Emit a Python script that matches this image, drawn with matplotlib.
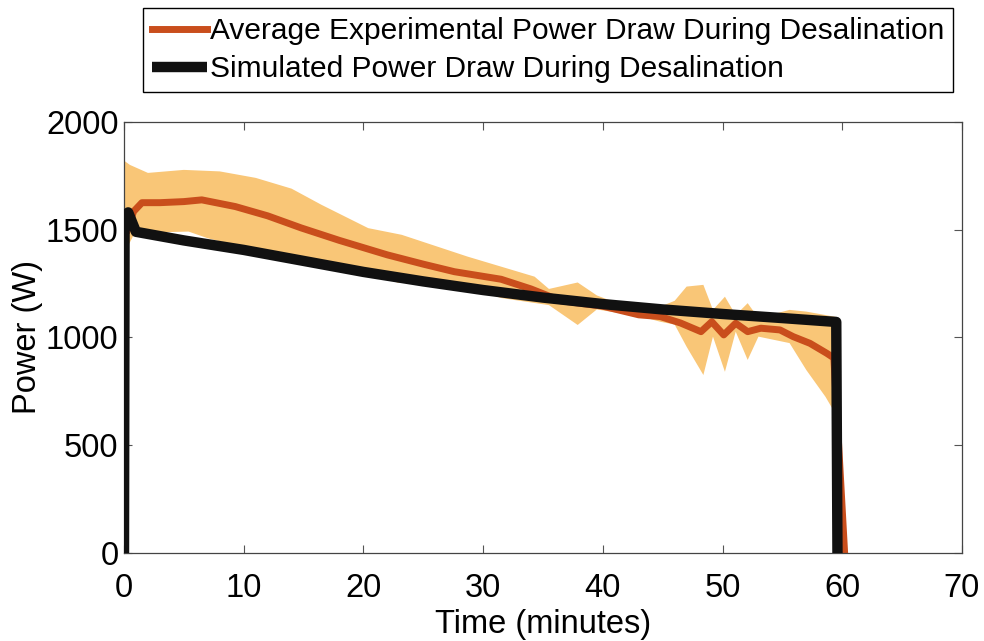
"""Power draw during desalination: experimental mean with spread vs simulation."""

import numpy as np
import matplotlib
matplotlib.use("Agg")
import matplotlib.pyplot as plt

plt.rcParams["font.family"] = ["Liberation Sans", "DejaVu Sans"]

# Average experimental power draw (minutes, W)
exp_time = [0.3, 0.8, 1.5, 3, 5, 6.5, 9.3, 12, 14.8, 18, 22, 25, 27.6, 31.5, 34,
            36.5, 40, 43, 44.8, 46.5, 48.2, 49.1, 50.1, 51.1, 52.1, 53.2, 54.8,
            55.9, 57.3, 58.7, 59.3, 60.2]
exp_power = [1500, 1584, 1625, 1625, 1630, 1638, 1607, 1564, 1508, 1450, 1383, 1340,
             1305, 1270, 1225, 1170, 1145, 1105, 1097, 1067, 1027, 1073, 1012, 1066,
             1027, 1043, 1035, 1004, 973, 927, 905, 0]

# Upper edge of the experimental spread
upper_time = [0, 0.5, 2, 5, 8, 11, 14, 16.5, 20.4, 23.2, 28.7, 34.3, 35.5, 37.9,
              39.5, 40.7, 44.8, 46, 47, 48.4, 49.2, 50.2, 51.1, 52.1, 53, 55.6,
              57, 58.6, 59.5, 60.2]
upper_power = [1820, 1800, 1763, 1777, 1770, 1740, 1690, 1615, 1507, 1476, 1375,
               1282, 1225, 1255, 1195, 1170, 1143, 1170, 1236, 1244, 1128, 1189,
               1104, 1159, 1090, 1128, 1120, 1104, 1095, 0]

# Lower edge of the experimental spread
lower_time = [0, 0.3, 0.9, 5.4, 7, 10.9, 16.5, 21, 22.9, 24, 27.6, 31.5, 35.5,
              37.9, 39.5, 43.2, 44.8, 46, 47, 48.4, 49.2, 50.2, 51.1, 52.1, 53,
              55.6, 57, 58.6, 59.5, 60.2]
lower_power = [1400, 1420, 1485, 1491, 1460, 1406, 1360, 1300, 1253, 1290, 1253,
               1183, 1150, 1058, 1130, 1097, 1073, 1060, 957, 826, 1004, 841, 1027,
               896, 1004, 974, 849, 725, 640, 0]

# Simulated power draw
sim_time = [0, 0.05, 0.35, 1.0, 5, 10, 15, 20, 25, 30, 35, 40, 45, 50, 55, 59.5, 59.6]
sim_power = [0, 1560, 1580, 1490, 1450, 1406, 1355, 1304, 1260, 1220, 1185, 1155,
             1130, 1109, 1090, 1072, 0]

fig = plt.figure(figsize=(9.84, 6.41), dpi=100)
ax = fig.add_axes([0.126, 0.137, 0.8516, 0.673])

# Spread band
band_x = np.concatenate([upper_time, lower_time[::-1]])
band_y = np.concatenate([upper_power, lower_power[::-1]])
ax.fill(band_x, band_y, color="#F9C677", linewidth=0, zorder=1)

ax.plot(exp_time, exp_power, color="#C94E1C", linewidth=5,
        solid_joinstyle="round", zorder=2,
        label="Average Experimental Power Draw During Desalination")
ax.plot(sim_time, sim_power, color="#111111", linewidth=7.5,
        solid_joinstyle="round", solid_capstyle="butt", zorder=3,
        label="Simulated Power Draw During Desalination")

ax.set_xlim(0, 70)
ax.set_ylim(0, 2000)
ax.set_xticks(np.arange(0, 71, 10))
ax.set_yticks(np.arange(0, 2001, 500))
ax.tick_params(direction="in", top=True, right=True, labelsize=23.5,
               length=6, width=0.8, color="#555555")
ax.tick_params(axis="x", pad=14)
ax.tick_params(axis="y", pad=4)
for s in ax.spines.values():
    s.set_color("#444444")
    s.set_linewidth(0.9)

ax.set_xlabel("Time (minutes)", fontsize=23.5, labelpad=4)
ax.set_ylabel("Power (W)", fontsize=23.5, labelpad=2)

leg = fig.legend(loc="upper center", bbox_to_anchor=(0.557, 0.9875),
                 fontsize=21.5, frameon=True, fancybox=False, framealpha=1,
                 edgecolor="black", borderpad=0.3, labelspacing=0.35,
                 handlelength=1.85, handletextpad=0.1, borderaxespad=0)
leg.get_frame().set_linewidth(1.0)

fig.savefig("out.png", dpi=100)
